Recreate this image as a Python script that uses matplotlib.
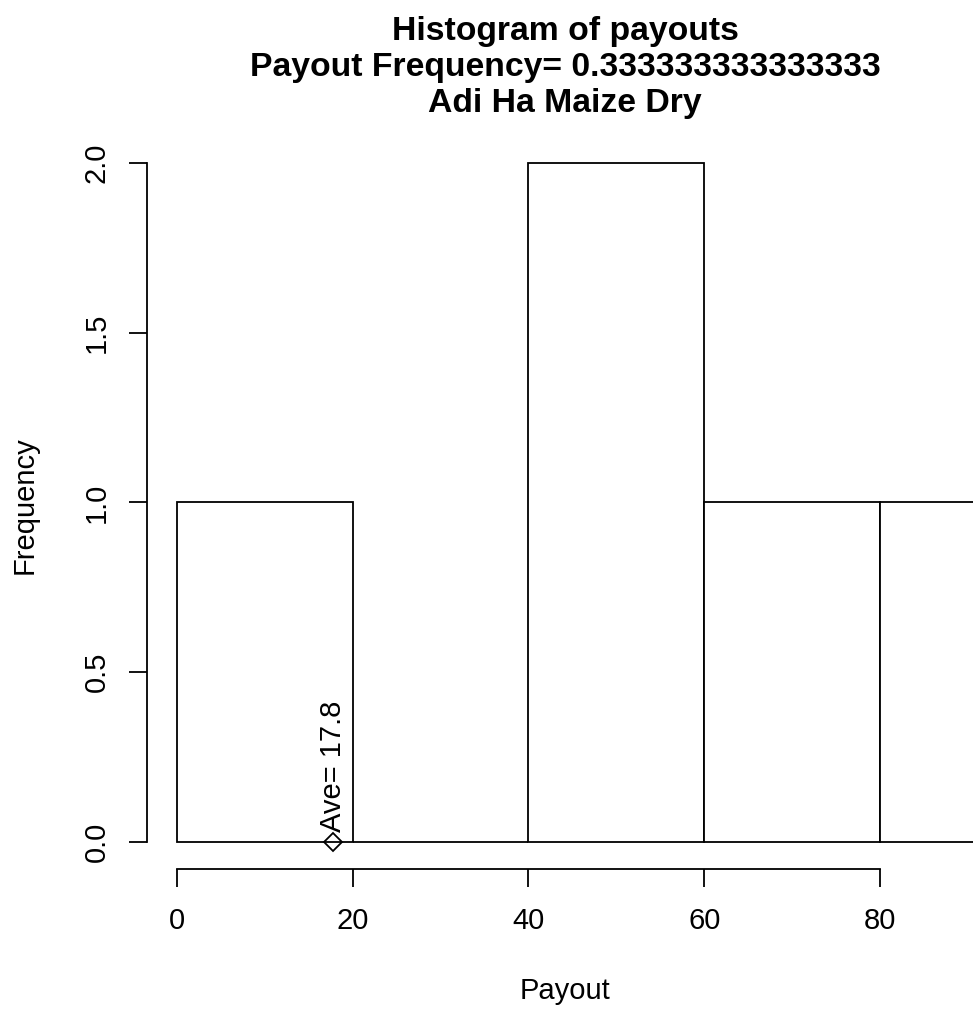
import matplotlib
matplotlib.use("Agg")
import matplotlib.pyplot as plt

# data
breaks = [0, 20, 40, 60, 80, 100]
counts = [1, 0, 2, 1, 1]
ave = 17.8
xticks = [0, 20, 40, 60, 80]
yticks = [0.0, 0.5, 1.0, 1.5, 2.0]
ytick_labels = ["0.0", "0.5", "1.0", "1.5", "2.0"]
title_lines = ["Histogram of payouts",
               "Payout Frequency= 0.333333333333333",
               "Adi Ha Maize Dry"]

plt.rcParams['font.family'] = ['Liberation Sans', 'DejaVu Sans']

W, H = 973, 1010
fig = plt.figure(figsize=(W / 100, H / 100), dpi=100)

# plot region in pixels
px_left, px_right = 147, 1090
px_top, px_bottom = 136, 869
ax = fig.add_axes([px_left / W, (H - px_bottom) / H,
                   (px_right - px_left) / W, (px_bottom - px_top) / H])
ax.set_xlim(-3.414, 103.9)
ax.set_ylim(-0.0805, 2.0805)
ax.patch.set_alpha(0)

lw = 1.3
fs = 21
lefts = breaks[:-1]
widths = [b - a for a, b in zip(breaks[:-1], breaks[1:])]
ax.bar(lefts, counts, width=widths, align='edge', facecolor='white',
       edgecolor='black', linewidth=lw, clip_on=False)

for s in ['top', 'right']:
    ax.spines[s].set_visible(False)
ax.spines['bottom'].set_bounds(xticks[0], xticks[-1])
ax.spines['left'].set_bounds(yticks[0], yticks[-1])
ax.spines['bottom'].set_linewidth(lw)
ax.spines['left'].set_linewidth(lw)

ax.set_xticks(xticks)
ax.set_xticklabels([str(v) for v in xticks])
ax.set_yticks(yticks)
ax.set_yticklabels(ytick_labels, rotation=90, va='center')
ax.tick_params(axis='both', direction='out', length=13.3, width=lw,
               labelsize=fs, colors='black')
ax.tick_params(axis='x', pad=14)
ax.tick_params(axis='y', pad=13)

# average marker and label
ax.plot([ave], [0], marker='D', markersize=9, markerfacecolor='none',
        markeredgecolor='black', markeredgewidth=lw, clip_on=False)
ax.annotate(f"Ave= {ave}", xy=(ave, 0), xytext=(0, 7), textcoords='offset points',
            rotation=90, ha='center', va='bottom', fontsize=fs)

# titles and labels
for i, line in enumerate(title_lines):
    fig.text(565 / W, 1 - (40 + 36 * i) / H, line, ha='center', va='baseline',
             fontsize=24.3, fontweight='bold')
fig.text(565 / W, 1 - 991 / H, "Payout", ha='center', va='center', fontsize=fs)
fig.text(25 / W, 1 - 505 / H, "Frequency", ha='center', va='center',
         fontsize=fs, rotation=90)

fig.savefig("out.png", dpi=100)
